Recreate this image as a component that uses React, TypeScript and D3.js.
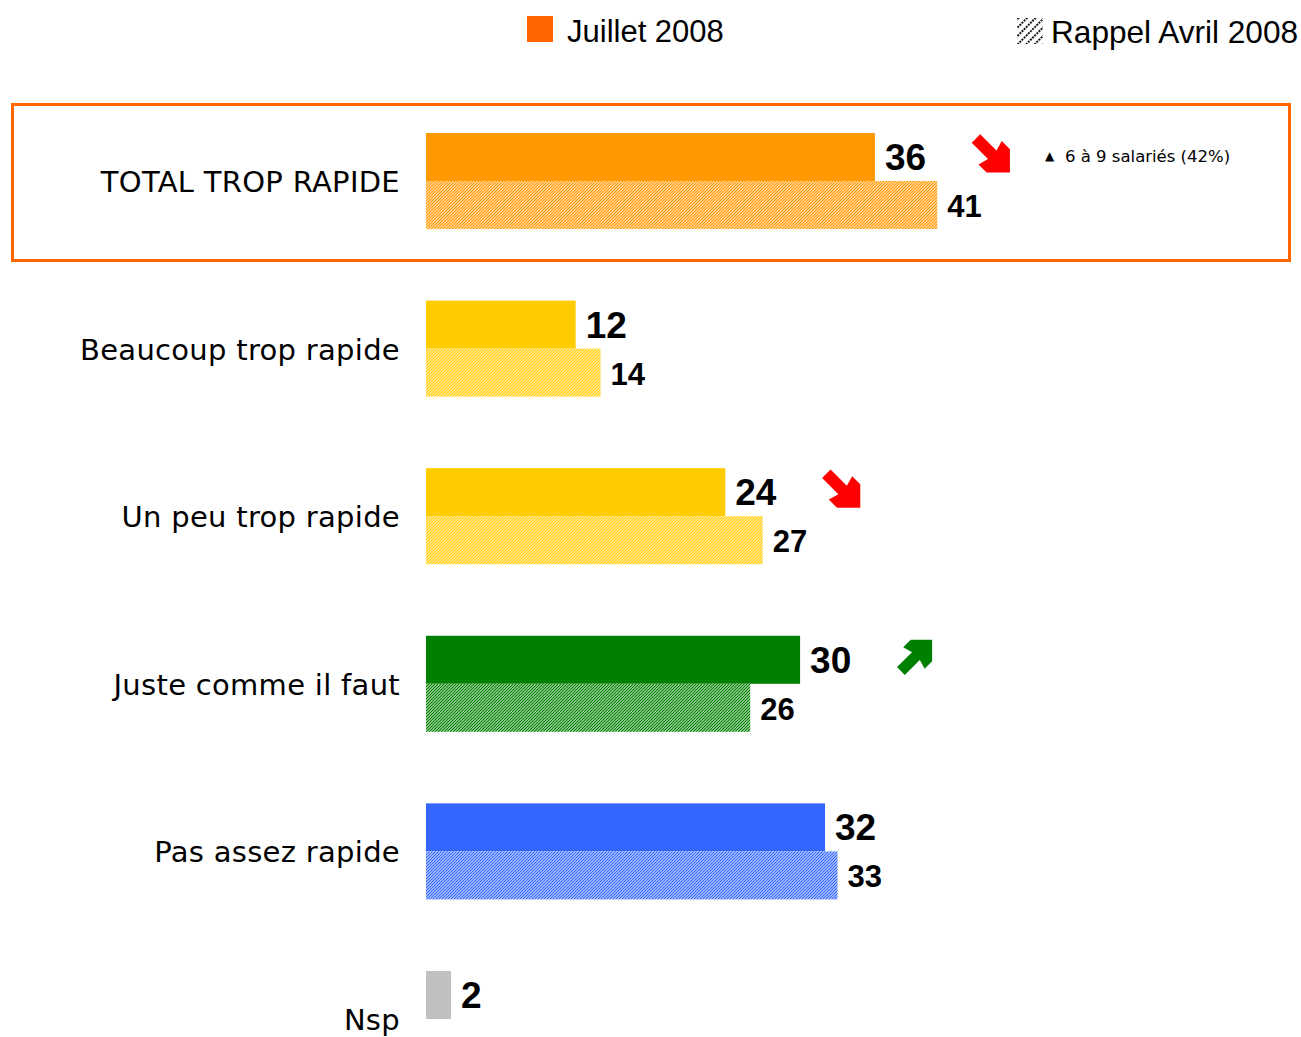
import React from "react";
import * as d3 from "d3";

const categories = [
  "TOTAL TROP RAPIDE",
  "Beaucoup trop rapide",
  "Un peu trop rapide",
  "Juste comme il faut",
  "Pas assez rapide",
  "Nsp",
];
const julyValues: number[] = [36, 12, 24, 30, 32, 2];
const aprilValues: (number | null)[] = [41, 14, 27, 26, 33, null];
const barColors = ["#FF9900", "#FFCC00", "#FFCC00", "#008000", "#3366FF", "#C0C0C0"];
const seriesNames = ["Juillet 2008", "Rappel Avril 2008"];
const trendArrows = [
  { category: "TOTAL TROP RAPIDE", dir: "down", color: "#FF0000" },
  { category: "Un peu trop rapide", dir: "down", color: "#FF0000" },
  { category: "Juste comme il faut", dir: "up", color: "#008000" },
];
const annotations = [{ category: "TOTAL TROP RAPIDE", text: "6 à 9 salariés (42%)" }];

const W = 1301;
const H = 1037;

export default function App() {
  const x = d3.scaleLinear().domain([0, 41]).range([426, 426 + 41 * 12.47]);
  const y = d3
    .scaleBand<string>()
    .domain(categories)
    .range([133, 133 + 5 * 167.6 + 96])
    .paddingInner(0.427)
    .paddingOuter(0);
  const sub = d3
    .scaleBand<string>()
    .domain(["cur", "prev"])
    .range([0, y.bandwidth()]);
  const bh = sub.bandwidth();

  const arrowPath = (dir: string, size: number) => {
    // block arrow pointing +x, tip at origin
    const a = 16.5 * size;
    const h = 28 * size;
    const w = 6 * size;
    const L = 48 * size;
    const s = 3 * size;
    const pts: [number, number][] = [
      [0, 0],
      [-a, -a],
      [-h, -a],
      [-h + s, -w],
      [-L, -w],
      [-L, w],
      [-h + s, w],
      [-h, a],
      [-a, a],
    ];
    const ang = dir === "down" ? Math.PI / 4 : -Math.PI / 4;
    const c = Math.cos(ang), sn = Math.sin(ang);
    const rp = pts.map(([px, py]) => [px * c - py * sn, px * sn + py * c]);
    return "M" + rp.map((p) => p[0].toFixed(2) + "," + p[1].toFixed(2)).join("L") + "Z";
  };

  return (
    <svg width={W} height={H} style={{ display: "block", position: "absolute", left: 0, top: 0 }}>
      <defs>
        {barColors.map((c, i) => (
          <pattern key={i} id={"hatch" + i} patternUnits="userSpaceOnUse" width={3} height={3}>
            <rect width={3} height={3} fill="#fff" />
            <path d="M-1,1L1,-1M0,3L3,0M2,4L4,2" stroke={c} strokeWidth={1.4} />
          </pattern>
        ))}
        <pattern id="hatchLegend" patternUnits="userSpaceOnUse" width={6} height={6} patternTransform="rotate(45)">
          <rect width={6} height={6} fill="#fff" />
          <rect width={1.8} height={2} fill="#000" />
          <rect y={3} width={1.8} height={2} fill="#000" />
        </pattern>
      </defs>
      <rect width={W} height={H} fill="#fff" />

      {/* legend */}
      <rect x={527} y={16} width={26} height={26} fill="#FF6600" />
      <text x={567} y={42} fontFamily="Liberation Sans, Arial, sans-serif" fontSize={31} fill="#000">
        {seriesNames[0]}
      </text>
      <rect x={1017} y={18} width={26} height={26} fill="url(#hatchLegend)" />
      <text x={1051} y={43} fontFamily="Liberation Sans, Arial, sans-serif" fontSize={31.6} fill="#000">
        {seriesNames[1]}
      </text>

      {/* highlight box */}
      <rect x={12.5} y={104.5} width={1277} height={156} fill="none" stroke="#FF6600" strokeWidth={3} />

      {categories.map((cat, i) => {
        const y0 = y(cat)!;
        const cur = julyValues[i];
        const prev = aprilValues[i];
        return (
          <g key={cat}>
            <text
              x={400}
              y={y0 + y.bandwidth() / 2 + 11}
              textAnchor="end"
              fontFamily="DejaVu Sans, Verdana, sans-serif"
              fontSize={29}
              letterSpacing={0.3}
              fill="#000"
            >
              {cat}
            </text>
            <rect x={x(0)} y={y0 + sub("cur")!} width={x(cur) - x(0)} height={bh} fill={barColors[i]} />
            <text
              x={x(cur) + 10}
              y={y0 + sub("cur")! + bh / 2 + 13}
              fontFamily="Liberation Sans, Arial, sans-serif"
              fontWeight="bold"
              fontSize={37}
              fill="#000"
            >
              {cur}
            </text>
            {prev !== null && (
              <>
                <rect
                  x={x(0)}
                  y={y0 + sub("prev")!}
                  width={x(prev) - x(0)}
                  height={bh}
                  fill={"url(#hatch" + i + ")"}
                />
                <text
                  x={x(prev) + 10}
                  y={y0 + sub("prev")! + bh / 2 + 12}
                  fontFamily="Liberation Sans, Arial, sans-serif"
                  fontWeight="bold"
                  fontSize={31}
                  fill="#000"
                >
                  {prev}
                </text>
              </>
            )}
          </g>
        );
      })}

      {trendArrows.map((a) => {
        const i = categories.indexOf(a.category);
        const cy = y(a.category)! + sub("cur")! + bh / 2 - 3;
        const size = a.dir === "down" ? 1 : 0.92;
        const half = 18.5 * size;
        const left = x(julyValues[i]) + 98;
        const tipX = left + 2 * half;
        const tipY = a.dir === "down" ? cy + half : cy - half;
        return (
          <path key={a.category} d={arrowPath(a.dir, size)} transform={`translate(${tipX},${tipY})`} fill={a.color} />
        );
      })}

      {annotations.map((an) => {
        const cy = y(an.category)! + sub("cur")! + bh / 2;
        return (
          <g key={an.text}>
            <text x={1045} y={cy + 3} fontFamily="DejaVu Sans, Verdana, sans-serif" fontSize={12} fill="#000">
              ▲
            </text>
            <text x={1065} y={cy + 5} fontFamily="DejaVu Sans, Verdana, sans-serif" fontSize={16.5} fill="#000">
              {an.text}
            </text>
          </g>
        );
      })}
    </svg>
  );
}
